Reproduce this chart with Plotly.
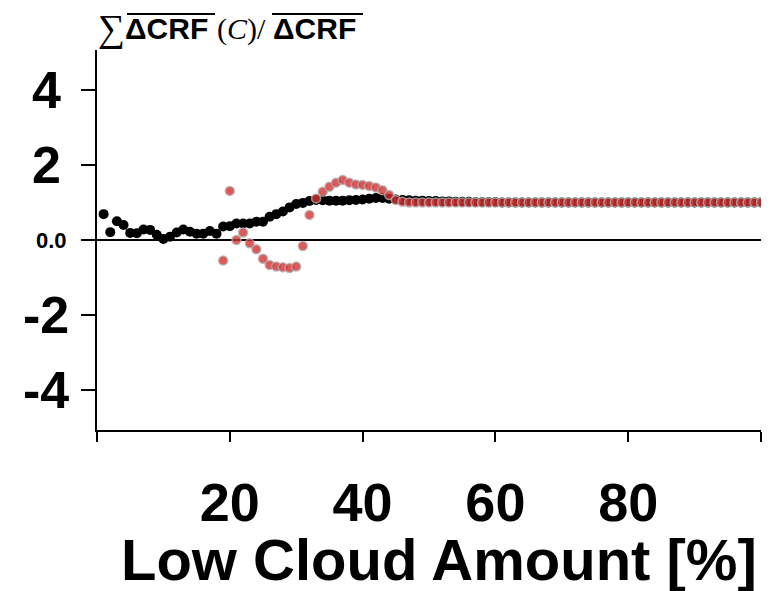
import plotly.graph_objects as go

# Low cloud amount bins (%)
cloud_amount = list(range(1, 101))

# Cumulative normalised CRF contribution, first series (black)
series_black = [
    0.69, 0.21, 0.50, 0.40, 0.19, 0.18, 0.28, 0.27, 0.14, 0.03,
    0.09, 0.20, 0.28, 0.22, 0.17, 0.17, 0.24, 0.17, 0.36, 0.37,
    0.44, 0.44, 0.44, 0.49, 0.49, 0.62, 0.69, 0.76, 0.87, 0.96,
    0.99, 1.04, 1.07, 1.06, 1.05, 1.05, 1.05, 1.06, 1.07, 1.08,
    1.10, 1.12, 1.12, 1.10, 1.08, 1.07, 1.06, 1.05, 1.05, 1.04,
    1.04, 1.03, 1.03, 1.02, 1.02, 1.02, 1.01, 1.01, 1.01, 1.01,
    1.00, 1.00, 1.00, 1.00, 1.00, 1.00, 1.00, 1.00, 1.00, 1.00,
    1.00, 1.00, 1.00, 1.00, 1.00, 1.00, 1.00, 1.00, 1.00, 1.00,
    1.00, 1.00, 1.00, 1.00, 1.00, 1.00, 1.00, 1.00, 1.00, 1.00,
    1.00, 1.00, 1.00, 1.00, 1.00, 1.00, 1.00, 1.00, 1.00, 1.00,
]

# Second series (red), starts at 19 %
cloud_amount_red = list(range(19, 101))
series_red = [
    -0.55, 1.31, 0.00, 0.20, -0.09, -0.25, -0.50, -0.67, -0.71, -0.73,
    -0.75, -0.71, -0.16, 0.67, 1.11, 1.29, 1.42, 1.53, 1.60, 1.53,
    1.48, 1.47, 1.44, 1.40, 1.33, 1.20, 1.07, 1.02, 1.00, 1.00,
    1.00, 1.00, 1.00, 1.00, 1.00, 1.00, 1.00, 1.00, 1.00, 1.00,
    1.00, 1.00, 1.00, 1.00, 1.00, 1.00, 1.00, 1.00, 1.00, 1.00,
    1.00, 1.00, 1.00, 1.00, 1.00, 1.00, 1.00, 1.00, 1.00, 1.00,
    1.00, 1.00, 1.00, 1.00, 1.00, 1.00, 1.00, 1.00, 1.00, 1.00,
    1.00, 1.00, 1.00, 1.00, 1.00, 1.00, 1.00, 1.00, 1.00, 1.00,
    1.00, 1.00,
]

y_tickvals = [-4, -2, 0, 2, 4]
y_ticktext = ["-4", "-2", "0.0", "2", "4"]
x_tickvals = [0, 20, 40, 60, 80, 100]
x_ticktext = ["", "20", "40", "60", "80", ""]

SANS = "Liberation Sans, Arial, sans-serif"
SERIF = "Liberation Serif, DejaVu Serif, serif"

fig = go.Figure()
fig.add_trace(go.Scatter(
    x=cloud_amount, y=series_black, mode="markers",
    marker=dict(size=10, color="black", line=dict(width=0)),
    showlegend=False,
))
fig.add_trace(go.Scatter(
    x=cloud_amount_red, y=series_red, mode="markers",
    marker=dict(size=9, color="rgba(213,49,49,0.8)",
                line=dict(width=1.5, color="rgba(175,175,175,0.8)")),
    showlegend=False,
))

W, H = 777, 591
L, R, T, B = 97, 16, 50, 161

fig.update_layout(
    width=W, height=H,
    margin=dict(l=L, r=R, t=T, b=B, pad=0),
    paper_bgcolor="white", plot_bgcolor="white",
    font=dict(family=SANS, color="black"),
    xaxis=dict(
        range=[0, 100], tickvals=x_tickvals, ticktext=x_ticktext,
        showgrid=False, zeroline=False,
        showline=True, linecolor="black", linewidth=2,
        ticks="outside", ticklen=10, tickwidth=2, tickcolor="black",
        tickfont=dict(size=54, family=SANS, weight="bold"),
        ticklabelstandoff=14,
    ),
    yaxis=dict(
        range=[-5.07, 5.07], tickvals=y_tickvals,
        ticktext=["" for _ in y_tickvals],
        showgrid=False,
        zeroline=True, zerolinecolor="black", zerolinewidth=1.5,
        showline=True, linecolor="black", linewidth=2,
        ticks="outside", ticklen=14, tickwidth=2, tickcolor="black",
    ),
)

def px_x(p):
    return (p - L) / (W - L - R)

def px_y(p):
    return (H - B - p) / (H - T - B)

# Y tick labels, centred in the left margin; the zero label is smaller
for val, txt in zip(y_tickvals, y_ticktext):
    small = val == 0
    fig.add_annotation(
        text=txt, xref="paper", yref="y",
        x=px_x(51 if small else 46), y=val,
        xanchor="center", yanchor="middle", showarrow=False,
        font=dict(size=22 if small else 52, family=SANS, weight="bold"),
    )

# Axis title
fig.add_annotation(
    text="Low Cloud Amount [%]", xref="paper", yref="paper",
    x=px_x(439), y=px_y(559), xanchor="center", yanchor="middle",
    showarrow=False, font=dict(size=58, family=SANS, weight="bold"),
)

# Y label: sum of mean dCRF(C) over mean dCRF, built from pieces
title_y = px_y(29)
pieces = [
    ("\u2211", 96, SERIF, "normal", 38),
    ("\u0394CRF", 123, SANS, "bold", 30),
    ("(<i>C</i>)/", 215, SERIF, "normal", 30),
    ("\u0394CRF", 271, SANS, "bold", 30),
]
for txt, xpix, fam, wt, sz in pieces:
    fig.add_annotation(
        text=txt, xref="paper", yref="paper",
        x=px_x(xpix), y=title_y, xanchor="left", yanchor="middle",
        showarrow=False, font=dict(size=sz, family=fam, weight=wt),
    )

# Overbars
for x0, x1 in [(127, 215), (272, 363)]:
    fig.add_shape(
        type="line", xref="paper", yref="paper",
        x0=px_x(x0), x1=px_x(x1), y0=px_y(14), y1=px_y(14),
        line=dict(color="black", width=2),
    )

fig.write_html("out.html")
